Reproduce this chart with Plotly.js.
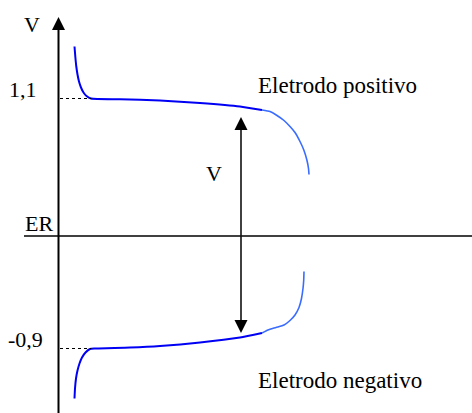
<!DOCTYPE html>
<html>
<head>
<meta charset="utf-8">
<script src="https://cdn.plot.ly/plotly-3.0.1.min.js"></script>
<style>
  html, body { margin: 0; padding: 0; background: #fff; }
  #chart { width: 472px; height: 413px; }
</style>
</head>
<body>
<div id="chart"></div>
<script>
// Electrode potential (V) against charge passed (arbitrary units, 0 at the V axis)
const posX = [16, 16.8, 17.8, 19, 20.5, 22.5, 25, 28, 32.5, 61.5, 101.5, 141.5, 181.5, 203.5];
const posV = [1.516, 1.436, 1.356, 1.292, 1.236, 1.188, 1.148, 1.12, 1.1, 1.094, 1.084, 1.064, 1.036, 1.008];
const posEndX = [203.5, 211.5, 218.5, 225.5, 231.5, 236.5, 241.5, 245.5, 248.5, 250, 250.5];
const posEndV = [1.008, 0.996, 0.964, 0.924, 0.876, 0.828, 0.756, 0.684, 0.604, 0.54, 0.492];

const negX = [16, 16.5, 17.5, 19, 21, 23.5, 27, 31.5, 36.5, 71.5, 101.5, 141.5, 181.5, 203.5];
const negV = [-1.3, -1.22, -1.14, -1.076, -1.02, -0.972, -0.932, -0.904, -0.9, -0.892, -0.88, -0.852, -0.812, -0.776];
const negEndX = [203.5, 209.5, 217.5, 225.5, 231.5, 236.5, 240.5, 243, 244.5, 245.2, 245.5];
const negEndV = [-0.776, -0.752, -0.732, -0.712, -0.676, -0.632, -0.572, -0.5, -0.42, -0.356, -0.284];

// plateau potentials and their labels
const plateauV = [1.1, -0.9];
const plateauLabels = ['1,1', '-0,9'];
const erLevel = 0;

// cell voltage arrow
const cellArrowX = 182.5;
const cellArrowTop = 0.952;
const cellArrowBottom = -0.776;

const xRange = [-58.5, 413.5];
const yRange = [-1.416, 1.888];

const darkBlue = '#0000f5';
const lightBlue = '#3a6cff';
const FONT_FAMILY = 'Liberation Serif';

function curve(x, y, color, width) {
  return {
    x: x, y: y, type: 'scatter', mode: 'lines',
    line: { color: color, width: width, shape: 'spline', smoothing: 0.5 },
    hoverinfo: 'skip', showlegend: false
  };
}

const traces = [
  curve(posX, posV, darkBlue, 2),
  curve(posEndX, posEndV, lightBlue, 1.6),
  curve(negX, negV, darkBlue, 2),
  curve(negEndX, negEndV, lightBlue, 1.6)
];

// pixel helpers for arrowheads (x unit = 1 px, y scale from range)
const pxPerV = 413 / (yRange[1] - yRange[0]);
const dyV = (px) => px / pxPerV;

function tri(xTip, yTip, halfW, lenPx, dir) {
  const yb = yTip - dir * dyV(lenPx);
  return {
    type: 'path', xref: 'x', yref: 'y',
    path: `M ${xTip} ${yTip} L ${xTip - halfW} ${yb} L ${xTip + halfW} ${yb} Z`,
    fillcolor: '#000', line: { width: 0 }
  };
}

const shapes = [
  // vertical potential axis
  { type: 'line', xref: 'x', yref: 'y', x0: 0, x1: 0, y0: yRange[0], y1: yRange[1] - dyV(28),
    line: { color: '#000', width: 2 } },
  tri(0, yRange[1] - dyV(17), 6.5, 13, 1),
  // ER reference line
  { type: 'line', xref: 'x', yref: 'y', x0: -34.5, x1: xRange[1], y0: erLevel, y1: erLevel,
    line: { color: '#000', width: 1.5 } },
  // cell voltage double arrow
  { type: 'line', xref: 'x', yref: 'y', x0: cellArrowX, x1: cellArrowX,
    y0: cellArrowTop - dyV(12), y1: cellArrowBottom + dyV(12),
    line: { color: '#111', width: 1.6 } },
  tri(cellArrowX, cellArrowTop, 6.5, 13, 1),
  tri(cellArrowX, cellArrowBottom, 6.5, 13, -1)
];

plateauV.forEach((v) => {
  shapes.push({ type: 'line', xref: 'x', yref: 'y', x0: 1.5, x1: 32.5, y0: v, y1: v,
    line: { color: '#000', width: 1, dash: 'dot' } });
});

function label(text, x, y, opts, size) {
  const a = { text: text, x: x, y: y, xref: 'x', yref: 'y', showarrow: false,
    font: { family: FONT_FAMILY, size: size || 22, color: '#000' }, xanchor: 'center', yanchor: 'middle' };
  if (opts) { for (const k in opts) a[k] = opts[k]; }
  return a;
}

const annotations = [
  label('V', -26.5, 1.691),
  label(plateauLabels[0], -36, plateauV[0], { yshift: 9.5 }),
  label(plateauLabels[1], -33, plateauV[1], { yshift: 9 }),
  label('ER', -19.5, erLevel, { yshift: 12.4 }),
  label('Eletrodo positivo', 197.5, 1.203, { xanchor: 'left' }, 23),
  label('Eletrodo negativo', 197.5, -1.157, { xanchor: 'left' }, 23),
  label('V', 155.5, 0.499)
];

const layout = {
  width: 472, height: 413,
  margin: { l: 0, r: 0, t: 0, b: 0 },
  font: { family: FONT_FAMILY, size: 22, color: '#000' },
  paper_bgcolor: '#fff', plot_bgcolor: '#fff',
  xaxis: { range: xRange, visible: false, fixedrange: true },
  yaxis: { range: yRange, visible: false, fixedrange: true },
  shapes: shapes,
  annotations: annotations,
  showlegend: false
};

Plotly.newPlot('chart', traces, layout, { displayModeBar: false, staticPlot: true });
</script>
</body>
</html>
